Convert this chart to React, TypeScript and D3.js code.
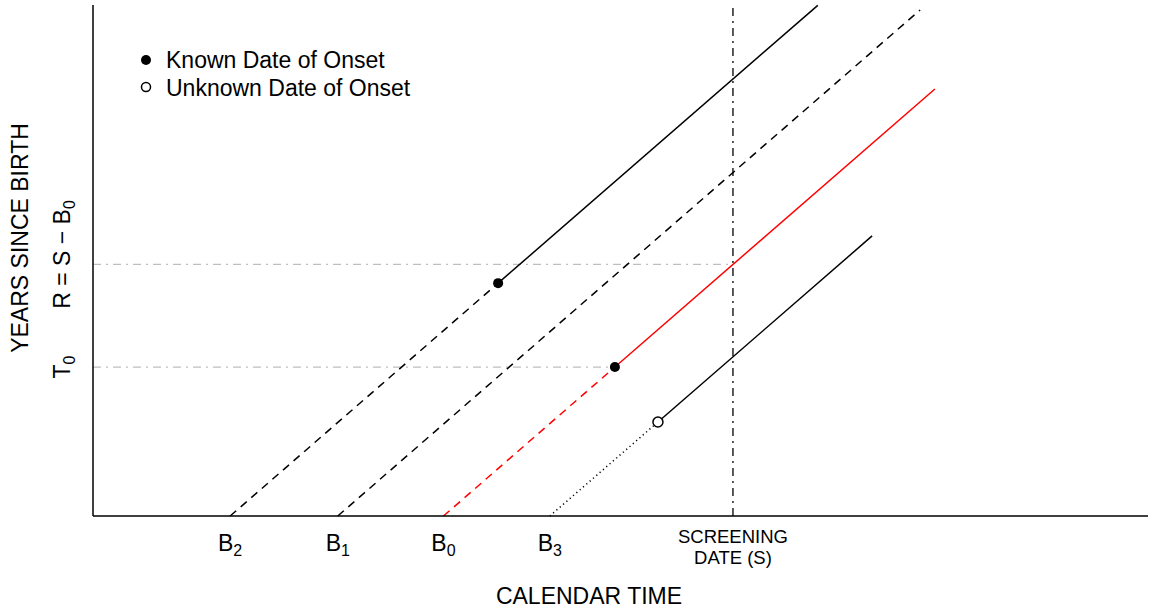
import React from "react";
import * as d3 from "d3";

const W = 1156;
const H = 611;

// Calendar-time values (years) for births and screening date
const birthLabels = ["B2", "B1", "B0", "B3"];
const birthSubs = ["2", "1", "0", "3"];
const births = [13.0, 23.2, 33.22, 43.3];
const screeningDate = 60.66;

// Each cohort line: birth, onset calendar time (null = none), end calendar time
const lineBirth = [13.0, 23.2, 33.22, 43.3];
const lineOnset: (number | null)[] = [38.4, null, 49.47, 53.55];
const lineEnd = [68.7, 78.4, 79.8, 73.85];
const lineColor = ["#000000", "#000000", "#ff0000", "#000000"];
const preStyle = ["dashed", "dashed", "dashed", "dotted"];
const onsetKnown = [true, false, true, false];

const legendLabels = ["Known Date of Onset", "Unknown Date of Onset"];

const margin = { left: 93, right: 8, top: 5, bottom: 95 };

export default function App() {
  const x = d3.scaleLinear().domain([0, 100]).range([margin.left, W - margin.right]);
  const y = d3.scaleLinear().domain([0, 55.74]).range([H - margin.bottom, margin.top]);
  const line = d3.line<[number, number]>().x((d) => x(d[0])).y((d) => y(d[1]));
  const font = "Liberation Sans, Arial, Helvetica, sans-serif";
  const dashOf = (s: string) => (s === "dashed" ? "8,6" : s === "dotted" ? "1.2,3.2" : undefined);

  const T0 = lineOnset[2]! - lineBirth[2];
  const R = screeningDate - births[2];
  const y0 = y(0);

  return (
    <div style={{ position: "absolute", left: 0, top: 0 }}>
      <svg width={W} height={H} style={{ display: "block", background: "#fff" }} fontFamily={font}>
        {/* gray reference lines */}
        <path d={line([[0, R], [screeningDate, R]])!} stroke="#bebebe" strokeWidth={1.3} strokeDasharray="8,5,2,5" fill="none" />
        <path d={line([[0, T0], [lineOnset[2]!, T0]])!} stroke="#bebebe" strokeWidth={1.3} strokeDasharray="8,5,2,5" fill="none" />
        {/* screening vertical */}
        <path d={line([[screeningDate, 0], [screeningDate, 55.74]])!} stroke="#000" strokeWidth={1.3} strokeDasharray="8,5,2,5" fill="none" />
        {/* cohort lines */}
        {lineBirth.map((b, i) => {
          const on = lineOnset[i];
          const e = lineEnd[i];
          if (on === null) {
            return (
              <path key={i} d={line([[b, 0], [e, e - b]])!} stroke={lineColor[i]} strokeWidth={1.5} strokeDasharray={dashOf(preStyle[i])} fill="none" />
            );
          }
          return (
            <g key={i}>
              <path d={line([[b, 0], [on, on - b]])!} stroke={lineColor[i]} strokeWidth={1.5} strokeDasharray={dashOf(preStyle[i])} fill="none" />
              <path d={line([[on, on - b], [e, e - b]])!} stroke={lineColor[i]} strokeWidth={1.5} fill="none" />
            </g>
          );
        })}
        {lineBirth.map((b, i) => {
          const on = lineOnset[i];
          if (on === null) return null;
          return onsetKnown[i] ? (
            <circle key={i} cx={x(on)} cy={y(on - b)} r={5} fill="#000" />
          ) : (
            <circle key={i} cx={x(on)} cy={y(on - b)} r={5} fill="#fff" stroke="#000" strokeWidth={1.5} />
          );
        })}
        {/* axes */}
        <line x1={x(0)} x2={x(0)} y1={y0} y2={margin.top} stroke="#000" strokeWidth={1.5} />
        <line x1={x(0)} x2={x(100)} y1={y0} y2={y0} stroke="#000" strokeWidth={1.5} />
        {/* x tick labels */}
        {births.map((b, i) => (
          <text key={i} x={x(b)} y={551} textAnchor="middle" fontSize={23} fill="#000">
            {birthLabels[i][0]}
            <tspan fontSize={16} dy={5}>{birthSubs[i]}</tspan>
          </text>
        ))}
        <text x={x(screeningDate)} y={543} textAnchor="middle" fontSize={18.5} fill="#000">SCREENING</text>
        <text x={x(screeningDate)} y={564} textAnchor="middle" fontSize={18.5} fill="#000">DATE (S)</text>
        <text x={589} y={604} textAnchor="middle" fontSize={23} fill="#000">CALENDAR TIME</text>
        {/* y labels */}
        <text transform={`translate(28,238) rotate(-90)`} textAnchor="middle" fontSize={23} fill="#000">YEARS SINCE BIRTH</text>
        <text transform={`translate(70,${y(T0)}) rotate(-90)`} textAnchor="middle" fontSize={23} fill="#000">
          T<tspan fontSize={16} dy={5}>0</tspan>
        </text>
        <text transform={`translate(70,${y(R) - 10}) rotate(-90)`} textAnchor="middle" fontSize={23} fill="#000">
          R = S − B<tspan fontSize={16} dy={5}>0</tspan>
        </text>
        {/* legend */}
        <circle cx={146} cy={60} r={5} fill="#000" />
        <text x={166} y={68} fontSize={23} fill="#000">{legendLabels[0]}</text>
        <circle cx={146} cy={87} r={4.5} fill="#fff" stroke="#000" strokeWidth={1.5} />
        <text x={166} y={96} fontSize={23} fill="#000">{legendLabels[1]}</text>
      </svg>
    </div>
  );
}
